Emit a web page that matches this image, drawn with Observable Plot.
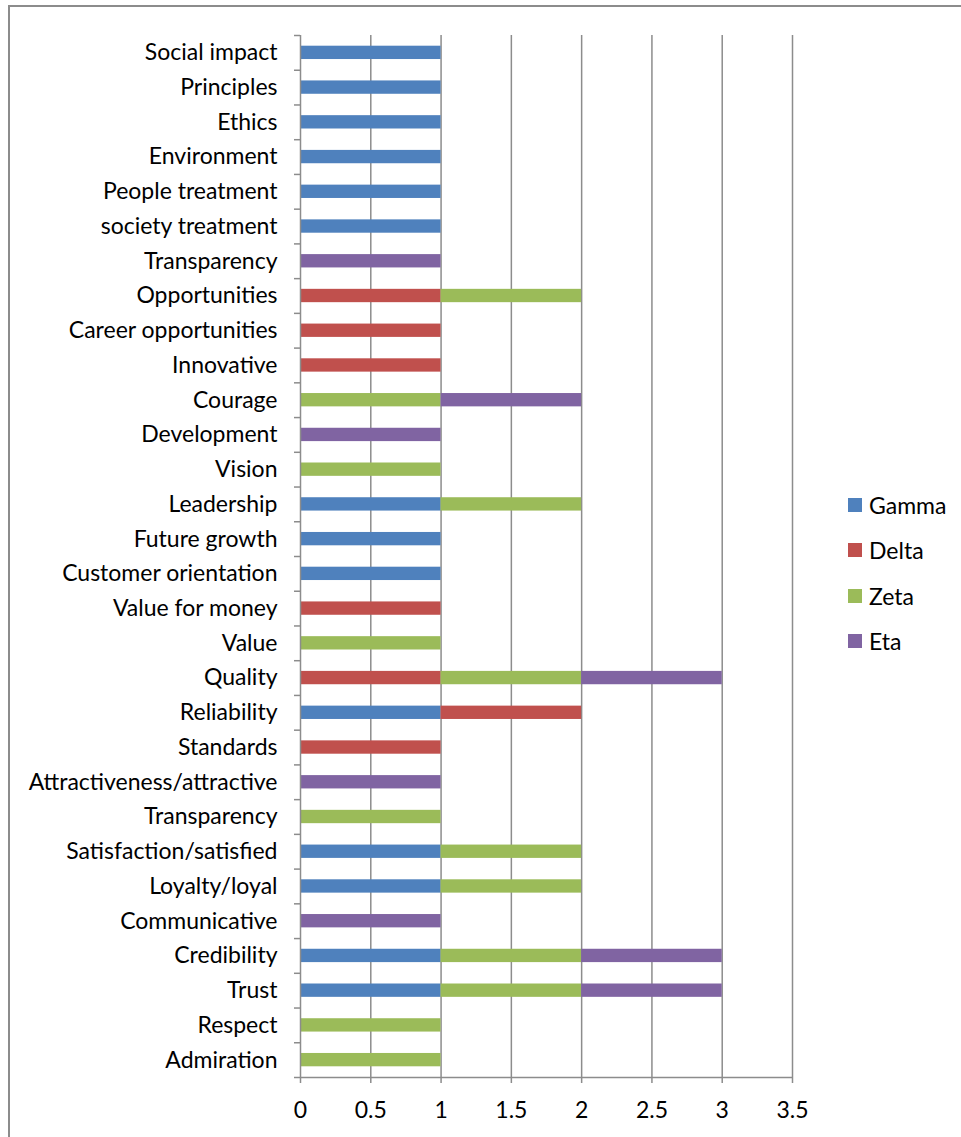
<!DOCTYPE html>
<html>
<head>
<meta charset="utf-8">
<script src="https://cdn.jsdelivr.net/npm/d3@7"></script>
<script src="https://cdn.jsdelivr.net/npm/@observablehq/plot@0.6"></script>
<style>
  html, body { margin: 0; padding: 0; background: #fff; }
  #wrap { position: relative; width: 961px; height: 1137px; overflow: hidden; font-family: Lato, "Open Sans", sans-serif; }
  #frame { position: absolute; left: 8px; top: 5px; right: -4px; bottom: -4px; border-top: 2px solid #8c8c8c; border-left: 2px solid #8c8c8c; }
  #chart { position: absolute; left: 0; top: 0; }
  #legend { position: absolute; left: 848px; top: 482px; }
  .item { display: flex; align-items: center; height: 45.5px; font-size: 23px; color: #000; }
  .sw { width: 14px; height: 14px; margin-right: 7px; }
</style>
</head>
<body>
<div id="wrap">
  <div id="frame"></div>
  <div id="chart"></div>
  <div id="legend"></div>
</div>
<script>
const categories = [
  "Social impact", "Principles", "Ethics", "Environment", "People treatment",
  "society treatment", "Transparency", "Opportunities", "Career opportunities", "Innovative",
  "Courage", "Development", "Vision", "Leadership", "Future growth",
  "Customer orientation", "Value for money", "Value", "Quality", "Reliability",
  "Standards", "Attractiveness/attractive", "Transparency", "Satisfaction/satisfied", "Loyalty/loyal",
  "Communicative", "Credibility", "Trust", "Respect", "Admiration"
];
const seriesNames = ["Gamma", "Delta", "Zeta", "Eta"];
const seriesColors = ["#4F81BD", "#C0504D", "#9BBB59", "#8064A2"];
const gamma = [1,1,1,1,1, 1,0,0,0,0, 0,0,0,1,1, 1,0,0,0,1, 0,0,0,1,1, 0,1,1,0,0];
const delta = [0,0,0,0,0, 0,0,1,1,1, 0,0,0,0,0, 0,1,0,1,1, 1,0,0,0,0, 0,0,0,0,0];
const zeta  = [0,0,0,0,0, 0,0,1,0,0, 1,0,1,1,0, 0,0,1,1,0, 0,0,1,1,1, 0,1,1,1,1];
const eta   = [0,0,0,0,0, 0,1,0,0,0, 1,1,0,0,0, 0,0,0,1,0, 0,1,0,0,0, 1,1,1,0,0];
const xTicks = [0, 0.5, 1, 1.5, 2, 2.5, 3, 3.5];

const seriesValues = [gamma, delta, zeta, eta];
const rows = [];
seriesNames.forEach((s, k) => {
  seriesValues[k].forEach((v, i) => {
    if (v > 0) rows.push({series: s, i0: i, i1: i + 1, value: v});
  });
});

const gridColor = "#8c8c8c";
const font = "Lato, 'Open Sans', sans-serif";

const chart = Plot.plot({
  width: 961,
  height: 1137,
  marginLeft: 300,
  marginRight: 169,
  marginTop: 35,
  marginBottom: 60,
  style: {fontFamily: font, fontSize: "23px", color: "#000", background: "transparent"},
  x: {domain: [0, 3.5]},
  y: {domain: [0, categories.length], reverse: true},
  color: {domain: seriesNames, range: seriesColors},
  marks: [
    Plot.ruleX(xTicks.slice(1), {y1: 0, y2: categories.length, stroke: gridColor, strokeWidth: 1.5}),
    Plot.rectX(rows, Plot.stackX({
      x: "value", y1: "i0", y2: "i1", z: "series", fill: "series",
      insetTop: 10.7, insetBottom: 10.7
    })),
    Plot.ruleX([0], {y1: 0, y2: categories.length, stroke: gridColor, strokeWidth: 1.5}),
    Plot.ruleY([categories.length], {x1: 0, x2: 3.5, stroke: gridColor, strokeWidth: 1.5}),
    Plot.axisY(d3.range(categories.length + 1), {tickSize: 6, tickFormat: () => "", stroke: gridColor, strokeWidth: 1.5, label: null}),
    Plot.axisY(d3.range(categories.length).map(i => i + 0.5), {
      tickSize: 0, tickPadding: 23, tickFormat: d => categories[Math.floor(d)],
      fontSize: 23, fill: "#000", label: null
    }),
    Plot.axisX(xTicks, {tickSize: 6, tickPadding: 18, stroke: gridColor, strokeWidth: 1.5, fontSize: 23, fill: "#000", tickFormat: d => String(d), label: null})
  ]
});
document.getElementById("chart").appendChild(chart);

const legend = document.getElementById("legend");
seriesNames.forEach((s, k) => {
  const it = document.createElement("div");
  it.className = "item";
  const sw = document.createElement("div");
  sw.className = "sw";
  sw.style.background = seriesColors[k];
  const t = document.createElement("span");
  t.textContent = s;
  it.appendChild(sw);
  it.appendChild(t);
  legend.appendChild(it);
});
</script>
</body>
</html>
